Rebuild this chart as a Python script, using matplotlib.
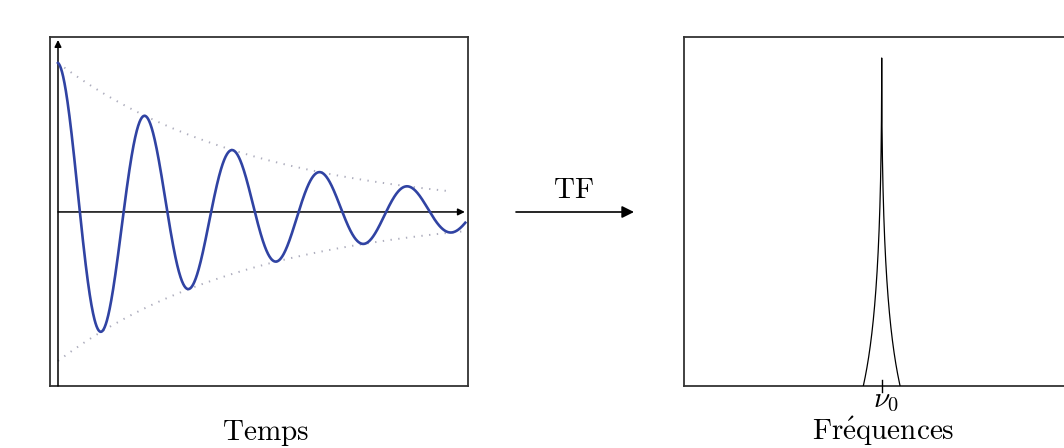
import matplotlib
matplotlib.use("Agg")
import matplotlib.pyplot as plt
import numpy as np
from matplotlib.patches import FancyArrowPatch

plt.rcParams["mathtext.fontset"] = "cm"

# -- signal parameters -------------------------------------------------------
A0 = 1.0          # initial amplitude
PERIOD = 1.0      # oscillation period (time unit)
TAU = 2.27        # damping time
T_END = 4.655     # end of the drawn signal
T_ENV_UP = 4.48   # end of the upper dotted envelope
T_ENV_LO = 4.63   # end of the lower dotted envelope

# -- spectrum parameters ------------------------------------------------------
NU0 = 19.77       # line position
HALF_BASE = 1.84  # half width of the drawn line at its base
W_PEAK = 1.2      # width of the line profile

TXT_TIME = r"$\mathrm{Temps}$"
TXT_FREQ = r"$\mathrm{Fr\'equences}$"
TXT_TF = r"$\mathrm{TF}$"
TXT_NU0 = r"$\nu_0$"

BLUE = "#3043a3"
ENV = "#adadbd"
FRAME = "#333333"

W, H = 1064, 448
fig = plt.figure(figsize=(W / 100, H / 100), dpi=100)

# ── Left panel: damped oscillation ──────────────────────────────────────────
ax1 = fig.add_axes([50 / W, 1 - 386 / H, 418 / W, 349 / H])
ax1.set_xlim(-0.0914, 4.686)
ax1.set_ylim(-1.168, 1.174)

t = np.linspace(0, T_END, 1500)
s = A0 * np.exp(-t / TAU) * np.cos(2 * np.pi * t / PERIOD)
ax1.plot(t, s, color=BLUE, lw=1.9, zorder=4)

# dotted envelopes
te = np.linspace(0, T_ENV_UP, 300)
ax1.plot(te, A0 * np.exp(-te / TAU), color=ENV, lw=1.4,
         linestyle=(0, (0.7, 3.3)), zorder=3)
te = np.linspace(0, T_ENV_LO, 300)
ax1.plot(te, -A0 * np.exp(-te / TAU), color=ENV, lw=1.4,
         linestyle=(0, (0.7, 3.3)), zorder=3)

# axes with arrows
ax1.annotate("", xy=(0, 1.154), xytext=(0, -1.168),
             arrowprops=dict(arrowstyle="-|>", lw=1.1, color="black",
                             mutation_scale=10, shrinkA=0, shrinkB=0))
ax1.annotate("", xy=(4.65, 0), xytext=(0, 0),
             arrowprops=dict(arrowstyle="-|>", lw=1.1, color="black",
                             mutation_scale=10, shrinkA=0, shrinkB=0))

# ── Right panel: spectrum ───────────────────────────────────────────────────
ax2 = fig.add_axes([684 / W, 1 - 386 / H, 420 / W, 349 / H])
ax2.set_xlim(0, 42.0)
ax2.set_ylim(0, 1.064)

nu = np.linspace(NU0 - HALF_BASE, NU0 + HALF_BASE, 1601)
c = np.exp(-np.sqrt(HALF_BASE / W_PEAK))
g = (np.exp(-np.sqrt(np.abs(nu - NU0) / W_PEAK)) - c) / (1 - c)
ax2.plot(nu, g, color="black", lw=0.9, zorder=4)
ax2.plot([NU0, NU0], [-0.018, 0.018], color="black", lw=1.0,
         clip_on=False, zorder=5)

for ax in (ax1, ax2):
    ax.set_xticks([])
    ax.set_yticks([])
    for sp in ax.spines.values():
        sp.set_color(FRAME)
        sp.set_linewidth(1.3)

# ── Labels and TF arrow ─────────────────────────────────────────────────────
fig.text(265 / W, 1 - 440 / H, TXT_TIME, ha="center", va="baseline",
         fontsize=21)
fig.text(883 / W, 1 - 440 / H, TXT_FREQ, ha="center", va="baseline",
         fontsize=21)
fig.text(886 / W, 1 - 407 / H, TXT_NU0, ha="center", va="baseline",
         fontsize=21)
fig.text(573 / W, 1 - 198 / H, TXT_TF, ha="center", va="baseline",
         fontsize=21)

arrow = FancyArrowPatch((516 / W, 1 - 212 / H), (634 / W, 1 - 212 / H),
                        transform=fig.transFigure, arrowstyle="-|>",
                        mutation_scale=18, lw=1.2, color="black",
                        shrinkA=0, shrinkB=0)
fig.add_artist(arrow)

fig.savefig("out.png", dpi=100)
